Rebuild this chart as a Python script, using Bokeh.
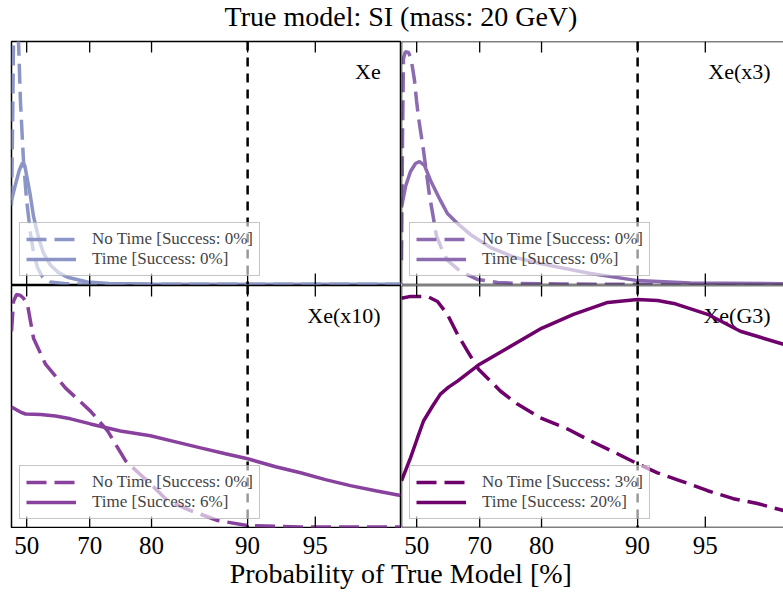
from bokeh.plotting import figure
from bokeh.layouts import column, row
from bokeh.models import (LinearAxis, FixedTicker, Span, Legend,
                          LegendItem, Range1d)
from bokeh.core.properties import value
from bokeh.embed import file_html
from bokeh.resources import INLINE

FONT = "Liberation Serif"

TITLE = "True model: SI (mass: 20 GeV)"
XLABEL = "Probability of True Model [%]"

# x axis: non-linear probability axis; tick positions in axis units (0..100 = panel width)
TICK_LABELS = ["50", "70", "80", "90", "95"]
TICK_POS = [3.9, 20.1, 36.0, 60.7, 78.1]
THRESHOLD = "90"

PANELS = ["Xe", "Xe(x3)", "Xe(x10)", "Xe(G3)"]
COLORS = ["#8c96c6", "#8c6bb1", "#88419d", "#6e016b"]
SUCCESS_NOTIME = [0, 0, 0, 3]
SUCCESS_TIME = [0, 0, 6, 20]

# ---- Xe ----
xe_notime_x = [0, 0.26, 0.51, 0.9, 1.2, 1.5, 1.8, 2.31, 3.08, 3.86, 4.88, 5.7, 6.68, 8.0, 10, 14, 25, 100]
xe_notime_y = [0.325, 0.634, 1.0, 1.22, 1.25, 1.15, 1.0, 0.75, 0.51, 0.35, 0.21, 0.13, 0.07, 0.03, 0.01, 0.003, 0.001, 0.001]
xe_time_x = [0, 1.0, 2.0, 2.8, 3.4, 4.0, 4.8, 5.66, 7.0, 8.2, 10, 12, 14.4, 19.5, 25, 35, 60, 100]
xe_time_y = [0.346, 0.41, 0.47, 0.50, 0.49, 0.44, 0.37, 0.28, 0.19, 0.13, 0.08, 0.05, 0.03, 0.01, 0.004, 0.002, 0.001, 0.001]

# ---- Xe(x3) ----
xe3_notime_x = [0, 0.26, 0.51, 1.0, 1.8, 2.4, 2.83, 3.34, 3.86, 4.37, 5.66, 7.2, 9.0, 10.5, 11.8, 15.2, 19.5, 24.7, 30.6, 41, 60, 98.2]
xe3_notime_y = [0.10, 0.60, 0.93, 0.958, 0.955, 0.93, 0.893, 0.84, 0.757, 0.687, 0.551, 0.366, 0.20, 0.14, 0.10, 0.053, 0.021, 0.008, 0.004, 0.002, 0.001, 0.001]
xe3_time_x = [0, 1.03, 2.31, 3.6, 4.63, 5.9, 7.46, 10.0, 11.8, 14.4, 17.7, 22.9, 29.3, 35.7, 48.6, 60.7, 74.3, 98.2]
xe3_time_y = [0.317, 0.403, 0.465, 0.498, 0.506, 0.49, 0.428, 0.346, 0.292, 0.251, 0.206, 0.152, 0.111, 0.086, 0.045, 0.016, 0.006, 0.003]

# ---- Xe(x10) ----
xe10_notime_x = [0, 0.51, 1.29, 2.31, 3.08, 4.1, 5.66, 8.74, 13.9, 20.3, 24.7, 29.3, 32.9, 35.7, 40.1, 46, 53, 60.7, 74.3, 100]
xe10_notime_y = [0.81, 0.934, 0.963, 0.959, 0.947, 0.922, 0.782, 0.675, 0.576, 0.481, 0.399, 0.276, 0.222, 0.181, 0.111, 0.07, 0.029, 0.008, 0.002, 0.002]
xe10_time_x = [0, 2.31, 3.6, 7.46, 11.3, 15.2, 20.3, 28, 35.7, 42.2, 48.6, 55, 60.7, 67.9, 74.3, 80.7, 87.1, 93.6, 100]
xe10_time_y = [0.498, 0.477, 0.469, 0.467, 0.461, 0.449, 0.428, 0.399, 0.379, 0.354, 0.329, 0.305, 0.284, 0.251, 0.226, 0.198, 0.173, 0.152, 0.132]

# ---- Xe(G3) ----
xeg3_notime_x = [0, 2.31, 6.68, 9.25, 11.8, 14.4, 17.0, 19.8, 22.9, 25.4, 29.8, 35.7, 42.7, 48.6, 55.5, 60.7, 65.8, 71.7, 78.7, 85.3, 91.5, 98.2]
xeg3_notime_y = [0.947, 0.955, 0.955, 0.934, 0.881, 0.798, 0.728, 0.654, 0.605, 0.564, 0.51, 0.453, 0.407, 0.358, 0.305, 0.263, 0.226, 0.193, 0.152, 0.119, 0.099, 0.07]
xeg3_time_x = [0, 2.31, 4.1, 5.66, 8.0, 10.0, 12.1, 14.4, 20.1, 27.2, 36.0, 44.2, 53.0, 60.7, 65.8, 70, 78.7, 87.1, 98.2]
xeg3_time_y = [0.193, 0.288, 0.37, 0.44, 0.502, 0.551, 0.58, 0.605, 0.675, 0.741, 0.823, 0.881, 0.93, 0.942, 0.938, 0.926, 0.881, 0.811, 0.757]

SERIES = [
    (xe_notime_x, xe_notime_y, xe_time_x, xe_time_y),
    (xe3_notime_x, xe3_notime_y, xe3_time_x, xe3_time_y),
    (xe10_notime_x, xe10_notime_y, xe10_time_x, xe10_time_y),
    (xeg3_notime_x, xeg3_notime_y, xeg3_time_x, xeg3_time_y),
]

# ---- layout constants (pixels) ----
LEFT_X0 = 11          # left edge of the left panels
PX_PER_UNIT = 3.89    # panel width 389 px == 100 axis units
LEFT_W = 389
RIGHT_W = 382         # right column is cut by the window edge
TOP_H = 243
BOT_H = 242
TITLE_H = 40
TICK_LEN = 11
RIGHT_OFFSET = (LEFT_W + 1) / PX_PER_UNIT   # right panel origin in left-panel units
LAB_H = 594 - TITLE_H - (1 + TOP_H + 1) - (BOT_H + 1)
TEXT_SHIFT = 7        # correction of the rendered baseline position


def border_axis(loc):
    ax = LinearAxis(fixed_location=loc, ticker=FixedTicker(ticks=[]))
    ax.major_tick_in = 0
    ax.major_tick_out = 0
    ax.minor_tick_line_color = None
    ax.major_label_standoff = 0
    ax.axis_line_color = "black"
    ax.axis_line_width = 1.5
    return ax


def make_panel(k):
    col = k % 2
    r = k // 2
    left = col == 0
    top = r == 0
    xmax = 100.0 if left else 100.0 * RIGHT_W / LEFT_W
    fh = TOP_H if top else BOT_H
    p = figure(frame_width=LEFT_W if left else RIGHT_W, frame_height=fh,
               x_range=Range1d(0, xmax), y_range=Range1d(0, 1),
               x_axis_location=None, y_axis_location=None,
               output_backend="svg", toolbar_location=None,
               min_border_left=LEFT_X0 if left else 0,
               min_border_right=1 if left else 0,
               min_border_top=1 if top else 0,
               min_border_bottom=1,
               background_fill_color="white", border_fill_color="white")
    p.xgrid.grid_line_color = None
    p.ygrid.grid_line_color = None
    if left:
        p.outline_line_color = "black"
        p.outline_line_width = 1.5
    else:
        p.outline_line_color = None
        p.add_layout(border_axis(1), "above")
        p.add_layout(border_axis(0), "left")
        p.add_layout(border_axis(0), "below")

    # panel name (drawn beneath the curves)
    p.text(x=[94.9], y=[0.875], text=[PANELS[k]], text_align="right",
           text_baseline="middle", text_font=value(FONT),
           text_font_size="22px", text_color="black")

    nx, ny, tx, ty = SERIES[k]
    r_dash = p.line(nx, ny, line_color=COLORS[k], line_width=3.5, line_dash="20 8")
    r_solid = p.line(tx, ty, line_color=COLORS[k], line_width=3.5)

    # inward tick marks on the top and bottom edges
    t = TICK_LEN / fh
    for x in TICK_POS:
        p.line([x, x], [1.0, 1.0 - t], line_color="black", line_width=1.3)
        p.line([x, x], [0.0, t], line_color="black", line_width=1.3)

    p.add_layout(Span(location=TICK_POS[TICK_LABELS.index(THRESHOLD)],
                      dimension="height", line_color="black",
                      line_width=2.5, line_dash="9 7"))

    legend = Legend(items=[
        LegendItem(label=value(f"No Time [Success: {SUCCESS_NOTIME[k]}%]"), renderers=[r_dash]),
        LegendItem(label=value(f"Time [Success: {SUCCESS_TIME[k]}%]"), renderers=[r_solid]),
    ], location="bottom_left", margin=8, padding=6, spacing=0,
        glyph_width=50, glyph_height=20, label_height=20, label_standoff=16,
        label_text_font=FONT, label_text_font_size="17px",
        background_fill_color="white", background_fill_alpha=0.6,
        border_line_color="#8c8c8c", border_line_width=1)
    p.add_layout(legend)
    return p


panels = [make_panel(k) for k in range(4)]


def text_strip(height):
    f = figure(width=783, height=height,
               x_range=Range1d(-LEFT_X0 / PX_PER_UNIT, (783 - LEFT_X0) / PX_PER_UNIT),
               y_range=Range1d(0, height),
               x_axis_location=None, y_axis_location=None, min_border=0,
               outline_line_color=None, toolbar_location=None, output_backend="svg")
    f.xgrid.grid_line_color = None
    f.ygrid.grid_line_color = None
    return f


CENTER = (LEFT_W * 2 + 1) / 2 / PX_PER_UNIT  # centre of both panel columns

tf = text_strip(TITLE_H)
tf.text(x=[CENTER], y=[TITLE_H - 23 + TEXT_SHIFT], text=[TITLE], text_align="center",
        text_baseline="alphabetic", text_font=value(FONT),
        text_font_size="28px", text_color="black")

# bottom strip: tick labels of both bottom panels + the shared x-axis title
lf = text_strip(LAB_H)
tick_x = list(TICK_POS) + [x + RIGHT_OFFSET for x in TICK_POS]
tick_t = list(TICK_LABELS) * 2
lf.text(x=tick_x, y=[LAB_H - 24 + TEXT_SHIFT] * len(tick_x), text=tick_t,
        text_align="center", text_baseline="alphabetic", text_font=value(FONT),
        text_font_size="25px", text_color="black")
lf.text(x=[CENTER], y=[LAB_H - 52 + TEXT_SHIFT], text=[XLABEL], text_align="center",
        text_baseline="alphabetic", text_font=value(FONT),
        text_font_size="28px", text_color="black")

layout = column(tf, row(panels[0], panels[1]), row(panels[2], panels[3]), lf)

open("out.html", "w").write(file_html(layout, INLINE))
